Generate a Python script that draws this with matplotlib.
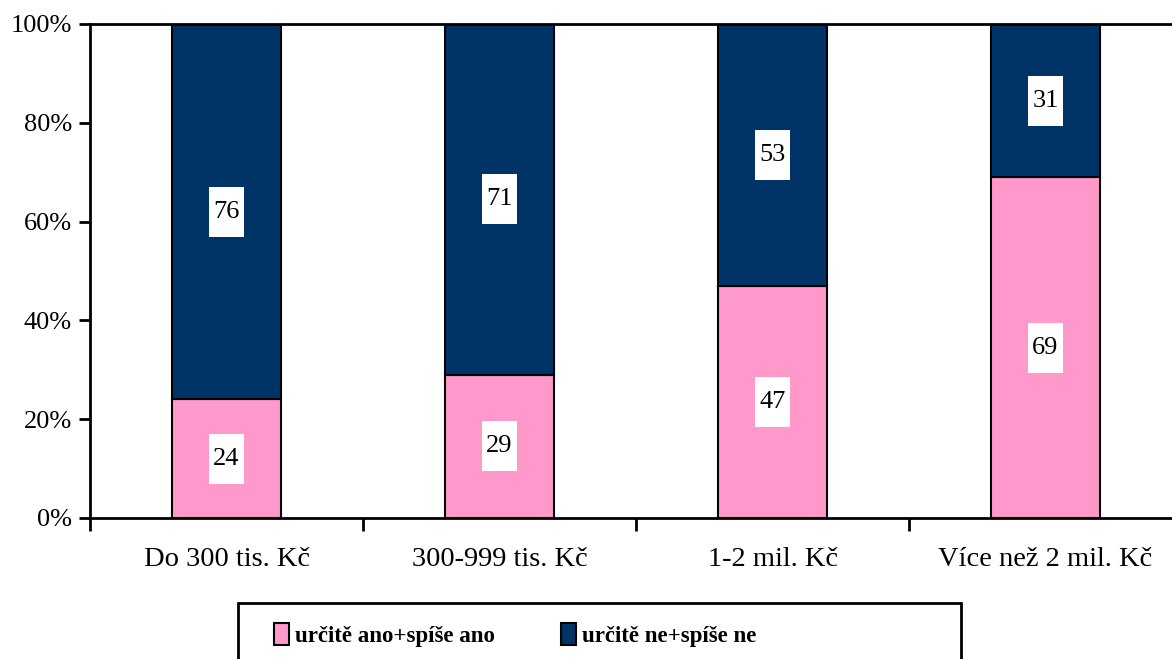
import matplotlib.pyplot as plt
import numpy as np
from matplotlib.offsetbox import AnnotationBbox, DrawingArea
from matplotlib.patches import Rectangle
from matplotlib.text import Text

categories = ["Do 300 tis. Kč", "300-999 tis. Kč", "1-2 mil. Kč", "Více než 2 mil. Kč"]
ano = [24, 29, 47, 69]
ne = [76, 71, 53, 31]
series_names = ["určitě ano+spíše ano", "určitě ne+spíše ne"]

PINK = "#FF99CC"
NAVY = "#003366"

plt.rcParams["font.family"] = ["Liberation Serif", "DejaVu Serif"]

W, H = 1172, 659
fig = plt.figure(figsize=(W / 100, H / 100), dpi=100)
ax = fig.add_axes([90 / W, 1 - 518 / H, 1092 / W, (518 - 24) / H])

x = np.arange(len(categories))
w = 0.4
b1 = ax.bar(x, ano, width=w, color=PINK, edgecolor="black", linewidth=1.5,
            label=series_names[0])
b2 = ax.bar(x, ne, width=w, bottom=ano, color=NAVY, edgecolor="black", linewidth=1.5,
            label=series_names[1])


def value_label(xv, yv, txt):
    # white box about 35 x 50 px, like the Excel data labels
    bw, bh = 35 * 0.72, 50 * 0.72
    da = DrawingArea(bw, bh, 0, 0, clip=False)
    da.add_artist(Rectangle((0, 0), bw, bh, fc="white", ec="none"))
    da.add_artist(Text(bw / 2, bh / 2, txt, ha="center", va="center", fontsize=19,
                       family=["Liberation Serif", "DejaVu Serif"]))
    ab = AnnotationBbox(da, (xv, yv), frameon=False, pad=0, box_alignment=(0.5, 0.5))
    ax.add_artist(ab)


for xi, a, n in zip(x, ano, ne):
    value_label(xi, a / 2, f"{a}")
    value_label(xi, a + n / 2, f"{n}")

ax.set_xlim(-0.5, 3.5)
ax.set_ylim(0, 100)
ax.set_yticks(range(0, 101, 20))
ax.set_yticklabels([f"{v}%" for v in range(0, 101, 20)], fontsize=19)
ax.set_xticks(x)
ax.set_xticklabels(categories, fontsize=20.5)
ax.set_xticks(np.arange(-0.5, 4, 1), minor=True)
ax.tick_params(axis="x", which="major", length=0, pad=21)
ax.tick_params(axis="x", which="minor", length=9, width=2, direction="out")
ax.tick_params(axis="y", length=8, width=2, direction="out", pad=5)
for s in ("left", "bottom", "top"):
    ax.spines[s].set_linewidth(2)
ax.spines["right"].set_visible(False)

# legend frame (wider than its content, runs off the bottom edge)
fig.patches.append(Rectangle((238 / W, -0.02), (961 - 238) / W, 0.02 + (H - 603) / H,
                             transform=fig.transFigure, fc="white", ec="black", lw=2))
leg = fig.legend(handles=[b1, b2], loc="center left",
                 bbox_to_anchor=(274 / W, 1 - 635 / H), ncol=2,
                 prop={"weight": "bold", "size": 16.5}, frameon=False,
                 handlelength=0.65, handleheight=1.05,
                 handletextpad=0.25, columnspacing=2.9, borderpad=0,
                 borderaxespad=0)

fig.savefig("out.png", dpi=100)
